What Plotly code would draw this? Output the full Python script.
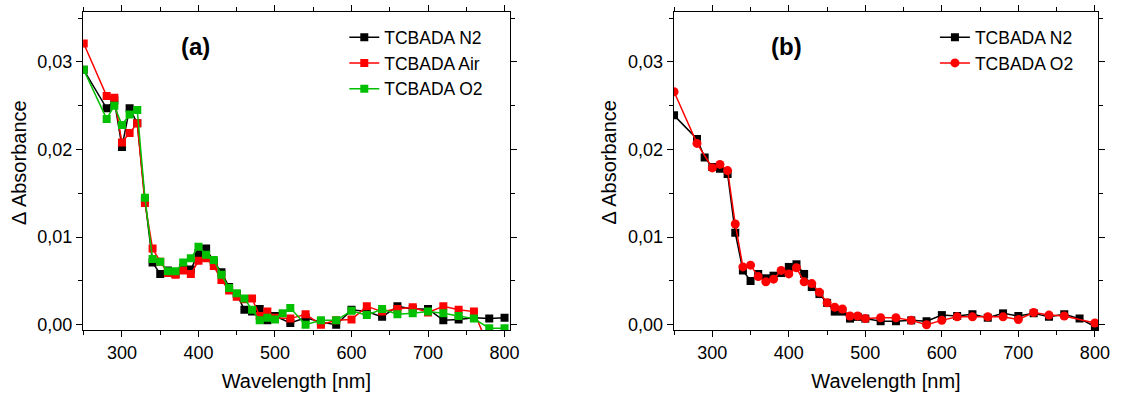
import plotly.graph_objects as go

# ---------- Data panel (a) ----------
wl_a_n2 = [250, 280, 290, 300, 310, 320, 330, 340, 350, 360, 370, 380, 390, 400, 410, 420, 430, 440, 450,
           460, 470, 480, 490, 500, 520, 540, 560, 580, 600, 620, 640, 660, 680, 700, 720, 740, 760, 780, 800]
abs_a_n2 = [0.0291, 0.0247, 0.0256, 0.0203, 0.0247, 0.0230, 0.0143, 0.0071, 0.0058, 0.0062, 0.0058, 0.0065,
            0.0063, 0.0082, 0.0087, 0.0072, 0.0060, 0.0043, 0.0035, 0.0017, 0.0015, 0.0018, 0.0005, 0.0010,
            0.0002, 0.0008, 0.0003, 0.0000, 0.0017, 0.0015, 0.0009, 0.0021, 0.0018, 0.0018, 0.0005, 0.0006,
            0.0008, 0.0007, 0.0008]

wl_a_air = [250, 280, 290, 300, 310, 320, 330, 340, 350, 360, 370, 380, 390, 400, 410, 420, 430, 440, 450,
            460, 470, 480, 490, 500, 520, 540, 560, 580, 600, 620, 640, 660, 680, 700, 720, 740, 760, 780, 800]
abs_a_air = [0.0321, 0.0261, 0.0259, 0.0208, 0.0219, 0.0230, 0.0139, 0.0087, 0.0072, 0.0059, 0.0057, 0.0062,
             0.0058, 0.0073, 0.0076, 0.0067, 0.0051, 0.0039, 0.0032, 0.0029, 0.0030, 0.0010, 0.0015, 0.0008,
             0.0007, 0.0012, 0.0000, 0.0005, 0.0006, 0.0021, 0.0015, 0.0018, 0.0020, 0.0014, 0.0021, 0.0017,
             0.0015, -0.0027, -0.0030]

wl_a_o2 = [250, 280, 290, 300, 310, 320, 330, 340, 350, 360, 370, 380, 390, 400, 410, 420, 430, 440, 450,
           460, 470, 480, 490, 500, 510, 520, 540, 560, 580, 600, 620, 640, 660, 680, 700, 720, 740, 760, 780, 800]
abs_a_o2 = [0.0291, 0.0235, 0.0250, 0.0228, 0.0240, 0.0245, 0.0145, 0.0075, 0.0072, 0.0061, 0.0061, 0.0071,
            0.0076, 0.0089, 0.0080, 0.0074, 0.0057, 0.0042, 0.0036, 0.0030, 0.0017, 0.0005, 0.0008, 0.0006,
            0.0013, 0.0019, 0.0000, 0.0005, 0.0005, 0.0016, 0.0011, 0.0018, 0.0012, 0.0013, 0.0015, 0.0013,
            0.0010, 0.0007, -0.0004, -0.0004]

# ---------- Data panel (b) ----------
wl_b_n2 = [250, 280, 290, 300, 310, 320, 330, 340, 350, 360, 370, 380, 390, 400, 410, 420, 430, 440, 450,
           460, 470, 480, 490, 500, 520, 540, 560, 580, 600, 620, 640, 660, 680, 700, 720, 740, 760, 780, 800]
abs_b_n2 = [0.0239, 0.0212, 0.0191, 0.0180, 0.0178, 0.0172, 0.0105, 0.0062, 0.0050, 0.0058, 0.0053, 0.0056,
            0.0059, 0.0066, 0.0069, 0.0058, 0.0043, 0.0035, 0.0025, 0.0015, 0.0015, 0.0007, 0.0009, 0.0007,
            0.0004, 0.0004, 0.0005, 0.0004, 0.0011, 0.0010, 0.0012, 0.0008, 0.0013, 0.0010, 0.0013, 0.0009,
            0.0012, 0.0007, -0.0002]

wl_b_o2 = [250, 280, 300, 310, 320, 330, 340, 350, 360, 370, 380, 390, 400, 410, 420, 430, 440, 450,
           460, 470, 480, 490, 500, 520, 540, 560, 580, 600, 620, 640, 660, 680, 700, 720, 740, 760, 800]
abs_b_o2 = [0.0266, 0.0207, 0.0179, 0.0183, 0.0176, 0.0115, 0.0066, 0.0068, 0.0055, 0.0049, 0.0052, 0.0062,
            0.0058, 0.0065, 0.0049, 0.0047, 0.0037, 0.0025, 0.0020, 0.0018, 0.0010, 0.0010, 0.0007, 0.0008,
            0.0008, 0.0005, 0.0000, 0.0005, 0.0009, 0.0009, 0.0009, 0.0009, 0.0006, 0.0014, 0.0011, 0.0010,
            0.0002]

x_ticks = [300, 400, 500, 600, 700, 800]
y_ticks = [0.00, 0.01, 0.02, 0.03]

FONT = "Arial, Liberation Sans, sans-serif"
BLACK = "#000000"
RED = "#ff0000"
GREEN = "#00c000"

fig = go.Figure()

def add(x, y, name, color, symbol, xa, ya, legend, size=8):
    fig.add_trace(go.Scatter(
        x=x, y=y, name=name, mode="lines+markers",
        line=dict(color=color, width=1.5),
        marker=dict(color=color, symbol=symbol, size=size),
        xaxis=xa, yaxis=ya, legend=legend,
    ))

add(wl_a_n2, abs_a_n2, "TCBADA N2", BLACK, "square", "x", "y", "legend")
add(wl_a_air, abs_a_air, "TCBADA Air", RED, "square", "x", "y", "legend")
add(wl_a_o2, abs_a_o2, "TCBADA O2", GREEN, "square", "x", "y", "legend")
add(wl_b_n2, abs_b_n2, "TCBADA N2", BLACK, "square", "x2", "y2", "legend2")
add(wl_b_o2, abs_b_o2, "TCBADA O2", RED, "circle", "x2", "y2", "legend2", size=9)

xaxis_common = dict(
    tickvals=x_ticks, ticks="outside", ticklen=6, tickwidth=1.2,
    tickcolor=BLACK, showline=True, linecolor=BLACK, linewidth=1.3, mirror="ticks",
    showgrid=False, zeroline=False,
    minor=dict(ticks="outside", dtick=50, tick0=250, ticklen=4, tickwidth=1, tickcolor=BLACK),
    tickfont=dict(family=FONT, size=18, color=BLACK),
    title=dict(text="Wavelength [nm]", font=dict(family=FONT, size=20, color=BLACK), standoff=12),
)
yaxis_common = dict(
    range=[-0.0006, 0.0357], tickvals=y_ticks, tickformat=".2f", ticks="outside", ticklen=6,
    tickwidth=1.2, tickcolor=BLACK, showline=True, linecolor=BLACK, linewidth=1.3, mirror="ticks",
    showgrid=False, zeroline=False,
    minor=dict(ticks="outside", dtick=0.005, tick0=0, ticklen=4, tickwidth=1, tickcolor=BLACK),
    tickfont=dict(family=FONT, size=18, color=BLACK),
)

W, H = 1126, 394
legend_common = dict(xanchor="left", yanchor="top", bgcolor="rgba(0,0,0,0)",
                     font=dict(family=FONT, size=17.5, color=BLACK), tracegroupgap=0, itemwidth=30)

def label(text, x, y, size, angle=0):
    return dict(text=text, x=x / W, y=1 - y / H, xref="paper", yref="paper",
                xanchor="center", yanchor="middle", textangle=angle,
                showarrow=False, font=dict(family=FONT, size=size, color=BLACK))

fig.update_layout(
    width=W, height=H,
    margin=dict(l=0, r=0, t=12, b=64),
    paper_bgcolor="white", plot_bgcolor="white",
    separators=", ",
    font=dict(family=FONT, color=BLACK),
    xaxis=dict(domain=[84 / W, 515 / W], anchor="y", range=[249.2, 806.5], **xaxis_common),
    yaxis=dict(domain=[0, 1], anchor="x", **yaxis_common),
    xaxis2=dict(domain=[681 / W, 1110 / W], anchor="y2", range=[249.6, 804.3], **xaxis_common),
    yaxis2=dict(domain=[0, 1], anchor="x2", **yaxis_common),
    legend=dict(x=348 / W, y=1 - 9 / H, **legend_common),
    legend2=dict(x=945 / W, y=1 - 9 / H, **legend_common),
    annotations=[
        label("<b>(a)</b>", 198, 43, 24),
        label("<b>(b)</b>", 795, 43, 24),
        label("Δ Absorbance", 19, 186, 20, -90),
        label("Δ Absorbance", 616, 186, 20, -90),
    ],
)

fig.write_html("out.html")
